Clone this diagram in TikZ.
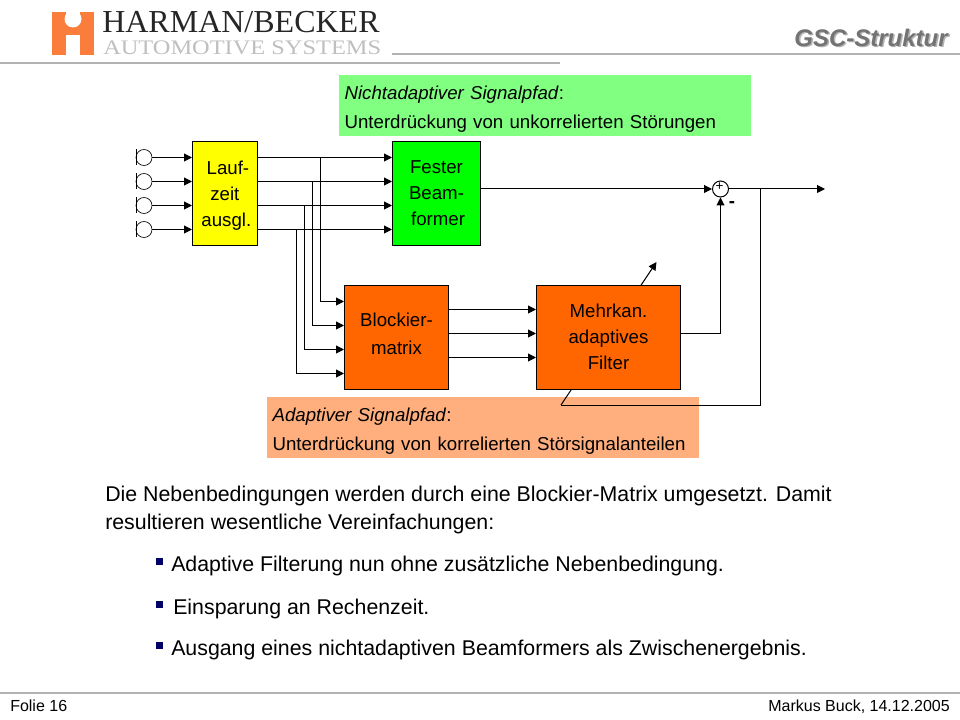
\documentclass[tikz,border=0pt]{standalone}
\usepackage{graphicx}
\usepackage{fontspec}
\setmainfont{Liberation Sans}
\newfontfamily\logofont{Liberation Serif}
\usetikzlibrary{calc, positioning, arrows.meta}
\definecolor{boxyellow}{RGB}{255,255,0}
\definecolor{boxgreen}{RGB}{0,255,0}
\definecolor{boxorange}{RGB}{255,102,0}
\definecolor{notegreen}{RGB}{128,255,128}
\definecolor{noteorange}{RGB}{255,174,125}
\definecolor{logoorange}{RGB}{250,125,60}
\definecolor{rulegray}{RGB}{178,178,178}
\definecolor{bulletblue}{RGB}{0,0,102}
\tikzset{
    block/.style={draw, line width=0.75pt, inner sep=0pt, align=center, font=\fontsize{14}{19.5}\selectfont},
    note/.style={inner sep=0pt, align=left, font=\fontsize{14}{22}\selectfont},
    wire/.style={line width=0.75pt},
    sig/.style={wire, -{Triangle[length=6pt,width=6pt]}},
    bodytext/.style={inner sep=0pt, anchor=base west, font=\fontsize{16}{18}\selectfont},
    rulerline/.style={rulegray, line width=1.5pt}
}
\begin{document}
\begin{tikzpicture}[x=0.75pt, y=-0.75pt]
    \useasboundingbox (0,0) rectangle (960,720);

    % header and footer
    \draw [rulerline] (0,63) -- (560,63);
    \draw [rulerline] (392,53.7) -- (960,53.7);
    \draw [rulerline] (0,692.5) -- (960,692.5);
    \fill [logoorange] (52,12) rectangle (94,55);
    \fill [white] (66,12) rectangle (80,16);
    \fill [white] (73,19) circle (8.5);
    \fill [white] (66,35) rectangle (80,55.5);
    \node [anchor=base west, inner sep=0pt, font=\logofont\fontsize{24}{26}\selectfont, text=black!85] (logotop) at (102,33) {HARMAN/BECKER};
    \node [anchor=base west, inner sep=0pt, font=\logofont\fontsize{15.5}{16}\selectfont, text=black!25] (logobottom) at (103,54.5) {\scalebox{1.18}[1]{AUTOMOTIVE SYSTEMS}};
    \node [anchor=base east, inner sep=0pt, text=black!30, font=\fontsize{18}{20}\bfseries\itshape\selectfont] at (949.5,48) {GSC-Struktur};
    \node [anchor=base east, inner sep=0pt, text=black!55, font=\fontsize{18}{20}\bfseries\itshape\selectfont] (title) at (948,47) {GSC-Struktur};
    \node [anchor=base west, inner sep=0pt, font=\fontsize{12}{14}\selectfont] (folie) at (10,711) {Folie 16};
    \node [anchor=base east, inner sep=0pt, font=\fontsize{12}{14}\selectfont] (autor) at (950,711) {Markus Buck, 14.12.2005};

    % notes
    \node [note, fill=notegreen, minimum height=45.5pt, text width=301pt, inner xsep=4pt, anchor=north west] (nonadapt) at (339,75) {\rule{0pt}{16pt}\textit{Nichtadaptiver Signalpfad}:\\Unterdrückung von unkorrelierten Störungen};
    \node [note, fill=noteorange, minimum height=45.5pt, text width=316pt, inner xsep=4pt, anchor=north west] (adapt) at (267,397) {\rule{0pt}{16pt}\textit{Adaptiver Signalpfad}:\\Unterdrückung von korrelierten Störsignalanteilen};

    % step size line, passes behind the filter
    \coordinate (knick) at (561,405);
    \coordinate (tip) at (656.5,262);
    \draw [sig] (knick) -- (tip);

    % blocks
    \node [block, fill=boxyellow, minimum width=48.5pt, minimum height=78pt, anchor=north west] (delay) at (192,141) {\rule{0pt}{13pt}\,\,Lauf-\\zeit\\\,ausgl.};
    \node [block, fill=boxgreen, minimum width=66pt, minimum height=78pt, anchor=north west] (fbf) at (392,141) {Fester\\Beam-\\\,former};
    \node [block, fill=boxorange, minimum width=78pt, minimum height=78pt, anchor=north west] (blockm) at (344,285) {Blockier-\\[1.5pt]matrix\rule[-6pt]{0pt}{0pt}};
    \node [block, fill=boxorange, minimum width=108pt, minimum height=78pt, anchor=north west] (filt) at (536,285) {Mehrkan.\\adaptives\\Filter\rule[-1.5pt]{0pt}{0pt}};
    \node [draw, circle, line width=0.75pt, minimum size=12pt, inner sep=0pt] (sum) at (720.5,189) {};
    \node [inner sep=0pt, font=\fontsize{10}{10}\selectfont] (plus) at (719.5,187) {+};
    \node [inner sep=0pt, font=\fontsize{14}{14}\bfseries\selectfont] (minus) at (732,205) {-};
    \coordinate (outp) at (825,189);
    \coordinate (abzw) at (760.5,189);

    % microphones, inputs and branches
    \foreach \n/\y/\bx/\bo in {1/157.5/320.5/301.5,2/181.5/312.5/325.5,3/205.5/304.5/349.5,4/229.5/296.5/373.5} {
        \node [draw, circle, line width=0.5pt, minimum size=12pt, inner sep=0pt] (mic\n) at (144,\y) {};
        \draw [line width=0.5pt] (136.5,\y-8) -- (136.5,\y+8);
        \draw [sig] (mic\n) -- (delay.west |- mic\n);
        \draw [sig] (delay.east |- mic\n) -- (fbf.west |- mic\n);
        \draw [sig] (\bx,\y) |- (blockm.west |- 0,\bo);
    }
    \foreach \y in {309.5,333.5,357.5} {
        \draw [sig] (blockm.east |- 0,\y) -- (filt.west |- 0,\y);
    }
    \draw [sig] (fbf.east |- sum) -- (sum);
    \draw [sig] (filt.east |- 0,333.5) -| (sum);
    \draw [sig] (sum) -- (outp);
    \draw [wire] (abzw) |- (knick);

    % text below
    \node [bodytext] (z1) at (105,501) {Die Nebenbedingungen werden durch eine Blockier-Matrix umgesetzt. Damit};
    \node [bodytext] (z2) at (105,529) {resultieren wesentliche Vereinfachungen:};
    \foreach \n/\x/\y/\t in {a/171/571/Adaptive Filterung nun ohne zusätzliche Nebenbedingung.,b/173/614/Einsparung an Rechenzeit.,c/171/655/Ausgang eines nichtadaptiven Beamformers als Zwischenergebnis.} {
        \node [bodytext] (p\n) at (\x,\y) {\t};
        \fill [bulletblue] (156,\y-13.5) rectangle ++(7,7.5);
    }
\end{tikzpicture}
\end{document}
